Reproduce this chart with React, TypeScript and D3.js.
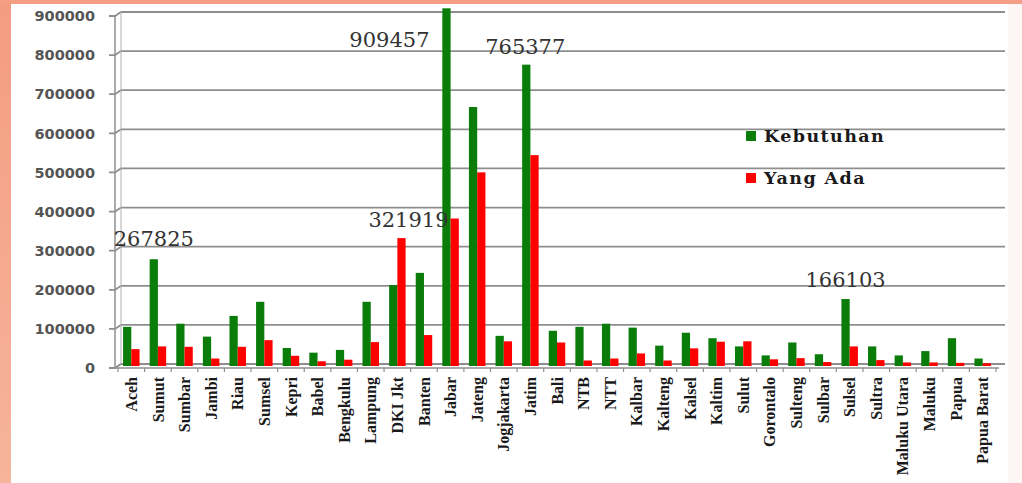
import React from "react";
import * as d3 from "d3";

const categories = [
  "Aceh", "Sumut", "Sumbar", "Jambi", "Riau", "Sumsel", "Kepri", "Babel", "Bengkulu",
  "Lampung", "DKI Jkt", "Banten", "Jabar", "Jateng", "Jogjakarta", "Jatim", "Bali", "NTB",
  "NTT", "Kalbar", "Kalteng", "Kalsel", "Kaltim", "Sulut", "Gorontalo", "Sulteng", "Sulbar",
  "Sulsel", "Sultra", "Maluku Utara", "Maluku", "Papua", "Papua Barat",
];

const kebutuhan = [
  95000, 267825, 103000, 70000, 123000, 159000, 41000, 29000, 36000,
  159000, 202000, 233000, 909457, 657000, 72000, 765377, 85000, 95000,
  103000, 93000, 47000, 80000, 66000, 45000, 22000, 55000, 25000,
  166103, 45000, 22000, 33000, 66000, 14000,
];

const yangAda = [
  38000, 45000, 44000, 14000, 44000, 61000, 21000, 7000, 11000,
  56000, 321919, 74000, 372000, 490000, 58000, 534000, 55000, 9000,
  14000, 27000, 9000, 40000, 57000, 58000, 12000, 15000, 5000,
  45000, 10000, 4000, 4000, 3000, 2000,
];

const yTicks = [0, 100000, 200000, 300000, 400000, 500000, 600000, 700000, 800000, 900000];

const seriesNames = ["Kebutuhan", "Yang Ada"];
const seriesColors = ["#0a7c0a", "#ff0000"];

// annotated values: category, series index
const annotations = [
  { cat: "Sumut", series: 0 },
  { cat: "Jabar", series: 0 },
  { cat: "DKI Jkt", series: 1 },
  { cat: "Jatim", series: 0 },
  { cat: "Sulsel", series: 0 },
];
// label offsets relative to bar top (layout)
const annotationOffsets: Record<string, [number, number]> = {
  Sumut: [0, -13],
  Jabar: [-57, 39],
  "DKI Jkt": [7, -11],
  Jatim: [-1, -11],
  Sulsel: [0, -12],
};

const W = 1022;
const H = 483;

export default function App() {
  const x = d3.scaleBand<string>().domain(categories).range([118, 996]).paddingInner(0.38).paddingOuter(0.19);
  const xs = d3.scaleBand<number>().domain([0, 1]).range([0, x.bandwidth()]);
  const y = d3.scaleLinear().domain([0, 900000]).range([364, 12]);

  const gridRight = 1005;
  const backX = 121;
  const frontX = 115;
  const depth = 4;
  const step = x.step();
  const bandStart = (c: string) => (x(c) as number) - (step - x.bandwidth()) / 2;

  const values = [kebutuhan, yangAda];

  return (
    <svg
      width={W}
      height={H}
      style={{ position: "absolute", left: 0, top: 0 }}
      xmlns="http://www.w3.org/2000/svg"
    >
      <defs>
        <linearGradient id="side" x1="0" y1="0" x2="0" y2="1">
          <stop offset="0" stopColor="#f49c82" />
          <stop offset="1" stopColor="#f6b49a" />
        </linearGradient>
      </defs>
      <rect x={0} y={0} width={W} height={H} fill="#ffffff" />
      <rect x={0} y={0} width={11} height={H} fill="url(#side)" />
      <rect x={0} y={0} width={W} height={4} fill="#f59e86" />
      <rect x={1008} y={4} width={14} height={H} fill="#fdf6f4" />

      {/* gridlines */}
      {yTicks.map((t) => (
        <g key={t}>
          <path
            d={`M${frontX - 6},${y(t) + depth} L${frontX},${y(t) + depth} L${backX},${y(t)} L${gridRight},${y(t)}`}
            fill="none"
            stroke="#8e8e8e"
            strokeWidth={1.8}
          />
          <text
            x={95}
            y={y(t) + depth}
            dy="0.36em"
            textAnchor="end"
            fontFamily="DejaVu Sans"
            fontWeight="bold"
            fontSize={14.5}
            fill="#555"
          >
            {t}
          </text>
        </g>
      ))}
      {/* axes */}
      <line x1={frontX} x2={frontX} y1={y(900000) + depth} y2={y(0) + depth} stroke="#8e8e8e" strokeWidth={1.5} />
      <line x1={backX} x2={backX} y1={y(900000)} y2={y(0)} stroke="#b0b0b0" strokeWidth={1} />
      <line x1={frontX} x2={gridRight - 6} y1={y(0) + depth} y2={y(0) + depth} stroke="#8e8e8e" strokeWidth={1.5} />
      {categories.map((c) => (
        <line
          key={"tk" + c}
          x1={bandStart(c)}
          x2={bandStart(c)}
          y1={y(0) + depth}
          y2={y(0) + depth + 4}
          stroke="#8e8e8e"
          strokeWidth={1.2}
        />
      ))}
      <line
        x1={bandStart(categories[categories.length - 1]) + step}
        x2={bandStart(categories[categories.length - 1]) + step}
        y1={y(0) + depth}
        y2={y(0) + depth + 4}
        stroke="#8e8e8e"
        strokeWidth={1.2}
      />

      {/* bars */}
      {categories.map((c, i) => (
        <g key={c}>
          {values.map((vals, s) => (
            <rect
              key={s}
              x={(x(c) as number) + (xs(s) as number)}
              y={y(vals[i])}
              width={xs.bandwidth()}
              height={y(0) + 2 - y(vals[i])}
              fill={seriesColors[s]}
            />
          ))}
        </g>
      ))}

      {/* category labels */}
      {categories.map((c) => {
        const cx = (x(c) as number) + x.bandwidth() / 2;
        return (
          <text
            key={"lb" + c}
            transform={`translate(${cx},377) rotate(-90)`}
            dy="0.35em"
            textAnchor="end"
            fontFamily="Liberation Serif"
            fontWeight="bold"
            fontSize={16}
            fill="#1a1a1a"
          >
            {c}
          </text>
        );
      })}

      {/* annotations */}
      {annotations.map((a) => {
        const i = categories.indexOf(a.cat);
        const v = values[a.series][i];
        const bx = (x(a.cat) as number) + (xs(a.series) as number) + xs.bandwidth() / 2;
        const [dx, dy] = annotationOffsets[a.cat];
        return (
          <text
            key={"an" + a.cat}
            x={bx + dx}
            y={y(v) + dy}
            textAnchor="middle"
            fontFamily="DejaVu Serif"
            fontSize={21}
            fill="#333"
          >
            {v}
          </text>
        );
      })}

      {/* legend */}
      {seriesNames.map((n, s) => (
        <g key={n} transform={`translate(746,${131 + s * 42})`}>
          <rect x={0} y={0} width={10} height={10} fill={seriesColors[s]} />
          <text
            x={18}
            y={11}
            fontFamily="DejaVu Serif"
            fontWeight="bold"
            fontSize={17.5}
            letterSpacing={1.4}
            fill="#1a1a1a"
          >
            {n}
          </text>
        </g>
      ))}
    </svg>
  );
}
